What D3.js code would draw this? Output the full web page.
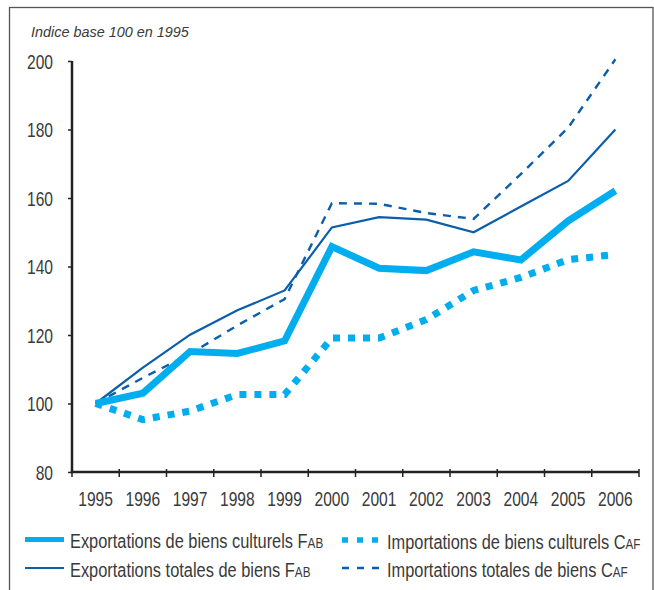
<!DOCTYPE html>
<html>
<head>
<meta charset="utf-8">
<script src="https://cdn.jsdelivr.net/npm/d3@7"></script>
<style>
  html, body { margin: 0; padding: 0; background: #fff; }
  svg { display: block; }
  text { font-family: "Liberation Sans", Arial, sans-serif; fill: #3a3a3a; }
</style>
</head>
<body>
<svg id="chart" width="654" height="590"></svg>
<script>
// ---- data ----
const years = [1995, 1996, 1997, 1998, 1999, 2000, 2001, 2002, 2003, 2004, 2005, 2006];
const exportsCulturels = [100, 103, 115.2, 114.6, 118.3, 145.8, 139.5, 138.8, 144.3, 141.9, 153.3, 162.1];
const importsCulturels = [100, 95.3, 97.8, 102.6, 102.6, 119.1, 119.1, 124.5, 133, 136.8, 142, 143.5];
const exportsTotales = [100, 110.5, 120.1, 127.2, 133, 151.4, 154.4, 153.7, 150, 157.5, 165, 180];
const importsTotales = [100, 107.5, 114.5, 122.8, 130.5, 158.5, 158.3, 155.6, 153.9, 167, 180.5, 200.5];
const yTicks = [80, 100, 120, 140, 160, 180, 200];
const yTitle = "Indice base 100 en 1995";
const seriesNames = [
  ["Exportations de biens culturels F", "AB"],
  ["Importations de biens culturels C", "AF"],
  ["Exportations totales de biens F", "AB"],
  ["Importations totales de biens C", "AF"]
];

// ---- layout ----
const svg = d3.select("#chart");
const pL = 72, pR = 639, pT = 61, pB = 472;
const K = 0.78; // horizontal condensation of the font
const light = "#00aeef", dark = "#0b5eab";

const x = d3.scaleBand().domain(years).range([pL, pR]).padding(0);
const xc = d => x(d) + x.bandwidth() / 2;
const y = d3.scaleLinear().domain([80, 200]).range([pB, pT]);

// frame
svg.append("rect").attr("x", 9.5).attr("y", 7.5).attr("width", 643.5).attr("height", 620)
  .attr("fill", "none").attr("stroke", "#555").attr("stroke-width", 1.3);

// title
svg.append("text").attr("x", 31 / 0.93).attr("y", 37).attr("font-size", 15.5)
  .attr("font-style", "italic").attr("transform", "scale(0.93,1)").text(yTitle);

// y axis
const yAxis = svg.append("g").attr("transform", `translate(${pL},0)`)
  .call(d3.axisLeft(y).tickValues(yTicks).tickSize(4).tickPadding(0).tickFormat(d3.format("d")));
yAxis.select(".domain").remove();
yAxis.selectAll(".tick line").attr("stroke", "#222").attr("stroke-width", 1.5);
yAxis.selectAll(".tick text")
  .attr("font-size", 20).attr("font-family", "'Liberation Sans', Arial, sans-serif")
  .attr("fill", "#3a3a3a").attr("x", -19 / K).attr("dy", "0.36em")
  .attr("transform", `scale(${K},1)`);

// x axis labels
const xAxis = svg.append("g").attr("transform", `translate(0,${pB})`)
  .call(d3.axisBottom(x).tickSize(0).tickPadding(0));
xAxis.select(".domain").remove();
xAxis.selectAll(".tick text")
  .attr("font-size", 20).attr("font-family", "'Liberation Sans', Arial, sans-serif")
  .attr("fill", "#3a3a3a").attr("y", 34).attr("dy", 0)
  .attr("transform", `scale(${K},1)`);

// x tick marks at band boundaries
const bounds = years.map(d => x(d)).concat([x.range()[1]]);
svg.append("g").selectAll("line").data(bounds).join("line")
  .attr("x1", d => d).attr("x2", d => d)
  .attr("y1", pB - 3).attr("y2", pB + 5)
  .attr("stroke", "#222").attr("stroke-width", 1.5);

// axis lines
svg.append("line").attr("x1", pL).attr("x2", pL).attr("y1", pT).attr("y2", pB)
  .attr("stroke", "#222").attr("stroke-width", 2.5);
svg.append("line").attr("x1", pL - 1.25).attr("x2", pR).attr("y1", pB).attr("y2", pB)
  .attr("stroke", "#222").attr("stroke-width", 2.5);

// lines
const line = d3.line().x((d, i) => xc(years[i])).y(d => y(d));
const series = [
  { values: importsTotales, color: dark, width: 2.4, dash: "8,7" },
  { values: exportsTotales, color: dark, width: 2.2, dash: null },
  { values: importsCulturels, color: light, width: 7, dash: "7,8" },
  { values: exportsCulturels, color: light, width: 7, dash: null }
];
svg.append("g").selectAll("path").data(series).join("path")
  .attr("d", d => line(d.values))
  .attr("fill", "none")
  .attr("stroke", d => d.color)
  .attr("stroke-width", d => d.width)
  .attr("stroke-dasharray", d => d.dash);

// legend
const legend = [
  { name: seriesNames[0], color: light, width: 5, dash: null, lx: 25, ly: 539.5 },
  { name: seriesNames[1], color: light, width: 5.5, dash: "6,9", lx: 342, ly: 540 },
  { name: seriesNames[2], color: dark, width: 2.2, dash: null, lx: 25, ly: 568 },
  { name: seriesNames[3], color: dark, width: 2.4, dash: "7,8", lx: 342, ly: 568 }
];
const lg = svg.append("g").selectAll("g").data(legend).join("g")
  .attr("transform", d => `translate(${d.lx},${d.ly})`);
lg.append("line").attr("x1", 0).attr("x2", 39).attr("y1", 0).attr("y2", 0)
  .attr("stroke", d => d.color).attr("stroke-width", d => d.width)
  .attr("stroke-dasharray", d => d.dash);
const lt = lg.append("text").attr("x", 45 / K).attr("y", 8.5).attr("font-size", 21)
  .attr("transform", `scale(${K},1)`);
lt.append("tspan").text(d => d.name[0]);
lt.append("tspan").attr("font-size", 15).text(d => d.name[1]);
</script>
</body>
</html>
